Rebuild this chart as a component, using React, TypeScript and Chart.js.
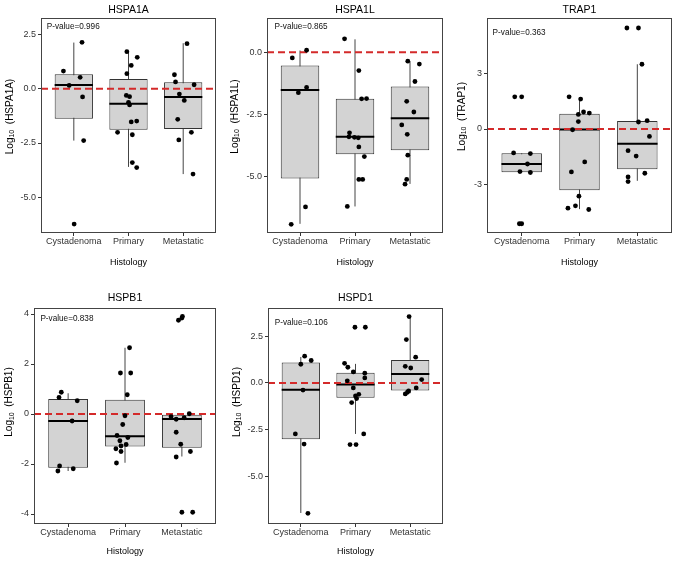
import React, { useEffect, useRef } from "react";
import { Chart, registerables } from "chart.js";

Chart.register(...registerables);

const FONT = "'Liberation Sans', Arial, 'DejaVu Sans', sans-serif";

const categories = ["Cystadenoma", "Primary", "Metastatic"];

// Box statistics per group: [lower whisker, Q1, median, Q3, upper whisker]
const hspa1aBoxes = [
  [-2.39, -1.38, 0.17, 0.66, 2.12],
  [-3.6, -1.89, -0.69, 0.44, 1.7],
  [-3.93, -1.86, -0.38, 0.29, 2.09],
];
// Points: [group (1-3), jitter, value]
const hspa1aPoints = [
  [1, -0.19, 0.81], [1, -0.085, 0.15], [1, 0.116, 0.52], [1, 0.15, 2.13], [1, 0.16, -0.38], [1, 0.18, -2.39], [1, 0.006, -6.23],
  [2, -0.03, 1.7], [2, 0.16, 1.44], [2, 0.05, 1.07], [2, -0.03, 0.69], [2, -0.04, -0.31], [2, 0.02, -0.37], [2, 0, -0.63], [2, 0.02, -0.75],
  [2, 0.05, -1.53], [2, 0.15, -1.49], [2, -0.2, -2.01], [2, 0.07, -2.12], [2, 0.07, -3.4], [2, 0.15, -3.63],
  [3, 0.07, 2.07], [3, -0.16, 0.64], [3, -0.14, 0.31], [3, 0.2, 0.18], [3, -0.07, -0.25], [3, 0.02, -0.54], [3, -0.1, -1.41], [3, 0.15, -2.01],
  [3, -0.08, -2.36], [3, 0.18, -3.93],
];
const hspa1aTicks = [-5, -2.5, 0, 2.5];
const hspa1aRange = [-6.64, 3.25];

const hspa1lBoxes = [
  [-6.92, -5.09, -1.52, -0.54, 0.07],
  [-6.22, -4.11, -3.41, -1.88, 0.52],
  [-5.31, -3.95, -2.66, -1.38, -0.38],
];
const hspa1lPoints = [
  [1, -0.14, -0.23], [1, 0.12, 0.08], [1, -0.03, -1.63], [1, 0.12, -1.42], [1, 0.1, -6.24], [1, -0.16, -6.94],
  [2, -0.19, 0.54], [2, 0.07, -0.74], [2, 0.12, -1.88], [2, 0.21, -1.87], [2, -0.1, -3.25], [2, -0.11, -3.41], [2, -0.01, -3.43],
  [2, 0.06, -3.45], [2, 0.07, -3.82], [2, 0.17, -4.21], [2, 0.07, -5.13], [2, 0.14, -5.13], [2, -0.14, -6.22],
  [3, -0.04, -0.36], [3, 0.17, -0.48], [3, 0.09, -1.18], [3, -0.06, -1.98], [3, 0.07, -2.41], [3, -0.15, -2.93], [3, -0.05, -3.31],
  [3, -0.04, -4.15], [3, -0.06, -5.13], [3, -0.09, -5.32],
];
const hspa1lTicks = [-5, -2.5, 0];
const hspa1lRange = [-7.29, 1.38];

const trap1Boxes = [
  [-2.35, -2.34, -1.89, -1.31, -1.31],
  [-4.33, -3.31, -0.02, 0.83, 1.71],
  [-2.8, -2.17, -0.79, 0.43, 3.5],
];
const trap1Points = [
  [1, -0.12, 1.74], [1, 0, 1.74], [1, -0.14, -1.29], [1, 0.15, -1.33], [1, 0.1, -1.89], [1, -0.03, -2.3], [1, 0.15, -2.35], [1, -0.04, -5.12], [1, 0, -5.12],
  [2, -0.18, 1.74], [2, 0.02, 1.62], [2, 0.07, 0.92], [2, 0.17, 0.86], [2, -0.02, 0.79], [2, -0.02, 0.4], [2, -0.12, -0.04], [2, 0.09, -1.78],
  [2, -0.14, -2.32], [2, -0.01, -3.63], [2, -0.07, -4.15], [2, -0.2, -4.28], [2, 0.16, -4.35],
  [3, -0.18, 5.46], [3, 0.02, 5.46], [3, 0.08, 3.5], [3, 0.17, 0.45], [3, 0.02, 0.38], [3, 0.21, -0.4], [3, -0.16, -1.17], [3, -0.02, -1.46],
  [3, 0.13, -2.39], [3, -0.16, -2.59], [3, -0.16, -2.84],
];
const trap1Ticks = [-3, 0, 3];
const trap1Range = [-5.62, 6.0];

const hspb1Boxes = [
  [-2.28, -2.15, -0.28, 0.6, 0.83],
  [-1.95, -1.3, -0.89, 0.57, 2.65],
  [-1.7, -1.35, -0.2, -0.03, 0.03],
];
const hspb1Points = [
  [1, -0.12, 0.87], [1, -0.16, 0.66], [1, 0.16, 0.53], [1, 0.07, -0.28], [1, -0.15, -2.08], [1, 0.09, -2.19], [1, -0.18, -2.28],
  [2, 0.08, 2.65], [2, -0.08, 1.64], [2, 0.1, 1.64], [2, 0.04, 0.77], [2, 0, -0.07], [2, -0.04, -0.42], [2, -0.14, -0.86], [2, 0.05, -0.94],
  [2, -0.09, -1.07], [2, 0.02, -1.22], [2, -0.07, -1.28], [2, -0.16, -1.39], [2, -0.07, -1.5], [2, -0.15, -1.96],
  [3, -0.06, 3.75], [3, 0, 3.84], [3, 0.01, 3.9], [3, 0.13, 0.01], [3, -0.19, -0.11], [3, -0.1, -0.21], [3, 0.04, -0.15], [3, -0.1, -0.73],
  [3, -0.02, -1.21], [3, 0.15, -1.5], [3, -0.1, -1.72], [3, 0, -3.93], [3, 0.19, -3.93],
];
const hspb1Ticks = [-4, -2, 0, 2, 4];
const hspb1Range = [-4.4, 4.24];

const hspd1Boxes = [
  [-6.96, -3.02, -0.36, 1.09, 1.39],
  [-2.73, -0.79, -0.09, 0.55, 1.02],
  [-0.55, -0.41, 0.48, 1.23, 3.55],
];
const hspd1Points = [
  [1, 0.07, 1.43], [1, 0, 1.0], [1, 0.19, 1.2], [1, 0.04, -0.38], [1, -0.1, -2.73], [1, 0.06, -3.27], [1, 0.13, -6.98],
  [2, 0.18, 2.98], [2, -0.01, 2.98], [2, -0.2, 1.05], [2, -0.14, 0.84], [2, -0.04, 0.59], [2, 0.17, 0.52], [2, 0.17, 0.27], [2, -0.15, 0.11],
  [2, -0.04, -0.27], [2, 0.06, -0.61], [2, 0, -0.7], [2, 0.02, -0.84], [2, -0.07, -1.05], [2, 0.15, -2.73], [2, -0.1, -3.3], [2, 0.01, -3.3],
  [3, -0.02, 3.55], [3, -0.07, 2.32], [3, 0.1, 1.38], [3, -0.09, 0.89], [3, 0.01, 0.8], [3, 0.21, 0.18], [3, 0.11, -0.27], [3, -0.03, -0.43],
  [3, -0.09, -0.59], [3, -0.05, -0.5],
];
const hspd1Ticks = [-5, -2.5, 0, 2.5];
const hspd1Range = [-7.55, 4.01];

const geneNames = ["HSPA1A", "HSPA1L", "TRAP1", "HSPB1", "HSPD1"];
const pValues = ["0.996", "0.865", "0.363", "0.838", "0.106"];

const BOX_HALF = 0.35;

const panels = [
  { gene: geneNames[0], p: pValues[0], boxes: hspa1aBoxes, points: hspa1aPoints, ticks: hspa1aTicks, range: hspa1aRange, dec: 1,
    x: 0, y: 0, w: 225, h: 275, yAxisW: 41, padR: 9, row: 0, yTitleX: 10, pDx: 5.7, pDy: 8.7 },
  { gene: geneNames[1], p: pValues[1], boxes: hspa1lBoxes, points: hspa1lPoints, ticks: hspa1lTicks, range: hspa1lRange, dec: 1,
    x: 225, y: 0, w: 225, h: 275, yAxisW: 42, padR: 7, row: 0, yTitleX: 10, pDx: 7.6, pDy: 9 },
  { gene: geneNames[2], p: pValues[2], boxes: trap1Boxes, points: trap1Points, ticks: trap1Ticks, range: trap1Range, dec: 0,
    x: 450, y: 0, w: 227, h: 275, yAxisW: 37, padR: 5, row: 0, yTitleX: 12, pDx: 5.6, pDy: 14.7 },
  { gene: geneNames[3], p: pValues[3], boxes: hspb1Boxes, points: hspb1Points, ticks: hspb1Ticks, range: hspb1Range, dec: 0,
    x: 0, y: 280, w: 225, h: 282, yAxisW: 34, padR: 9, row: 1, yTitleX: 9.5, pDx: 6.4, pDy: 11 },
  { gene: geneNames[4], p: pValues[4], boxes: hspd1Boxes, points: hspd1Points, ticks: hspd1Ticks, range: hspd1Range, dec: 1,
    x: 225, y: 280, w: 225, h: 282, yAxisW: 43, padR: 7, row: 1, yTitleX: 12, pDx: 6.7, pDy: 15 },
];

const rowStyle = [
  { titlePad: { top: 3.7, bottom: 1.7 }, xAxisH: 42, xTitlePadBottom: 6.6, yTitleDy: -9 },
  { titlePad: { top: 11.7, bottom: 3.7 }, xAxisH: 38, xTitlePadBottom: 4.6, yTitleDy: -14 },
];

const panelExtras = {
  id: "panelExtras",
  afterDraw(chart: any, _args: any, opts: any) {
    const { ctx, chartArea } = chart;
    const { left, top, right, bottom } = chartArea;
    ctx.save();
    // panel border
    ctx.strokeStyle = "#444";
    ctx.lineWidth = 1;
    const l = Math.round(left) + 0.5, t = Math.round(top) + 0.5;
    const r = Math.round(right) - 0.5, b = Math.round(bottom) - 0.5;
    ctx.strokeRect(l, t, r - l, b - t);
    // p-value label
    ctx.fillStyle = "#111";
    ctx.font = `8.2px ${FONT}`;
    ctx.textAlign = "left";
    ctx.textBaseline = "middle";
    ctx.fillText(`P-value=${opts.p}`, left + opts.pDx, top + opts.pDy);
    // y title with subscript
    ctx.translate(opts.yTitleX, (top + bottom) / 2 + opts.yTitleDy);
    ctx.rotate(-Math.PI / 2);
    ctx.fillStyle = "#000";
    const big = `10px ${FONT}`;
    const small = `7px ${FONT}`;
    const p1 = "Log", p2 = "10", p3 = `  (${opts.gene})`;
    ctx.font = big;
    const w1 = ctx.measureText(p1).width;
    const w3 = ctx.measureText(p3).width;
    ctx.font = small;
    const w2 = ctx.measureText(p2).width;
    let cx = -(w1 + w2 + w3) / 2;
    ctx.font = big;
    ctx.fillText(p1, cx, 0);
    cx += w1;
    ctx.font = small;
    ctx.fillText(p2, cx, 2.2);
    cx += w2;
    ctx.font = big;
    ctx.fillText(p3, cx, 0);
    ctx.restore();
  },
};

function Panel({ cfg }: { cfg: any }) {
  const ref = useRef<HTMLCanvasElement>(null);
  useEffect(() => {
    if (!ref.current) return;
    const rs = rowStyle[cfg.row];
    const boxData = cfg.boxes.map((b: number[], i: number) => ({ x: i + 1, y: [b[1], b[3]] }));
    const whiskers: any[] = [];
    cfg.boxes.forEach((b: number[], i: number) => {
      whiskers.push({ x: i + 1, y: b[0] }, { x: i + 1, y: b[4] }, { x: i + 1, y: null });
    });
    const medians: any[] = [];
    cfg.boxes.forEach((b: number[], i: number) => {
      medians.push({ x: i + 1 - BOX_HALF, y: b[2] }, { x: i + 1 + BOX_HALF, y: b[2] }, { x: i + 1, y: null });
    });
    const pts = cfg.points.map((p: number[]) => ({ x: p[0] + p[1], y: p[2] }));

    const chart = new Chart(ref.current, {
      type: "scatter",
      data: {
        datasets: [
          {
            type: "line",
            data: whiskers,
            borderColor: "#444",
            borderWidth: 1,
            pointRadius: 0,
            spanGaps: false,
            order: 4,
          } as any,
          {
            type: "bar",
            data: boxData,
            backgroundColor: "#d3d3d3",
            borderColor: "#333",
            borderWidth: 1,
            borderSkipped: false,
            categoryPercentage: 0.8,
            barPercentage: 0.875,
            grouped: false,
            order: 3,
          } as any,
          {
            type: "line",
            data: medians,
            borderColor: "#000",
            borderWidth: 2,
            pointRadius: 0,
            spanGaps: false,
            order: 2,
          } as any,
          {
            type: "line",
            data: [{ x: 0.4, y: 0 }, { x: 3.6, y: 0 }],
            borderColor: "#d42a2a",
            borderWidth: 2,
            borderDash: [7, 4],
            pointRadius: 0,
            order: 1,
          } as any,
          {
            type: "scatter",
            data: pts,
            pointRadius: 2.4,
            pointBackgroundColor: "#000",
            pointBorderWidth: 0,
            order: 0,
          } as any,
        ],
      },
      options: {
        animation: false,
        responsive: false,
        events: [],
        layout: { padding: { left: 0, right: cfg.padR, top: 0, bottom: 0 } },
        plugins: {
          legend: { display: false },
          tooltip: { enabled: false },
          title: {
            display: true,
            text: cfg.gene,
            fullSize: false,
            color: "#000",
            font: { family: FONT, size: 10.5, weight: "normal", lineHeight: 1.2 },
            padding: rs.titlePad,
          },
          panelExtras: { p: cfg.p, gene: cfg.gene, pDx: cfg.pDx, pDy: cfg.pDy, yTitleX: cfg.yTitleX, yTitleDy: rs.yTitleDy },
        } as any,
        scales: {
          x: {
            type: "linear",
            min: 0.4,
            max: 3.6,
            offset: false,
            grid: { display: true, drawOnChartArea: false, drawTicks: true, tickLength: 3, color: "#333", offset: false },
            border: { display: false },
            afterBuildTicks: (s: any) => {
              s.ticks = categories.map((_, i) => ({ value: i + 1 }));
            },
            afterFit: (s: any) => {
              s.height = rs.xAxisH;
            },
            ticks: {
              autoSkip: false,
              maxRotation: 0,
              padding: 0,
              color: "#333",
              font: { family: FONT, size: 9 },
              callback: (v: any) => categories[Math.round(Number(v)) - 1] ?? "",
            },
            title: {
              display: true,
              text: "Histology",
              color: "#000",
              font: { family: FONT, size: 9 },
              padding: { top: 0, bottom: rs.xTitlePadBottom },
            },
          },
          y: {
            type: "linear",
            min: cfg.range[0],
            max: cfg.range[1],
            grid: { display: true, drawOnChartArea: false, drawTicks: true, tickLength: 3, color: "#333" },
            border: { display: false },
            afterBuildTicks: (s: any) => {
              s.ticks = cfg.ticks.map((v: number) => ({ value: v }));
            },
            afterFit: (s: any) => {
              s.width = cfg.yAxisW;
            },
            ticks: {
              padding: 2,
              color: "#333",
              font: { family: FONT, size: 9 },
              callback: (v: any) => Number(v).toFixed(cfg.dec),
            },
            title: { display: false },
          },
        },
      } as any,
      plugins: [panelExtras],
    });
    return () => chart.destroy();
  }, []);
  return (
    <canvas
      ref={ref}
      width={cfg.w}
      height={cfg.h}
      style={{ position: "absolute", left: cfg.x, top: cfg.y, width: cfg.w, height: cfg.h }}
    />
  );
}

export default function App() {
  return (
    <div style={{ position: "absolute", left: 0, top: 0, width: 677, height: 562, background: "#fff", overflow: "hidden" }}>
      {panels.map((p) => (
        <Panel key={p.gene} cfg={p} />
      ))}
    </div>
  );
}
